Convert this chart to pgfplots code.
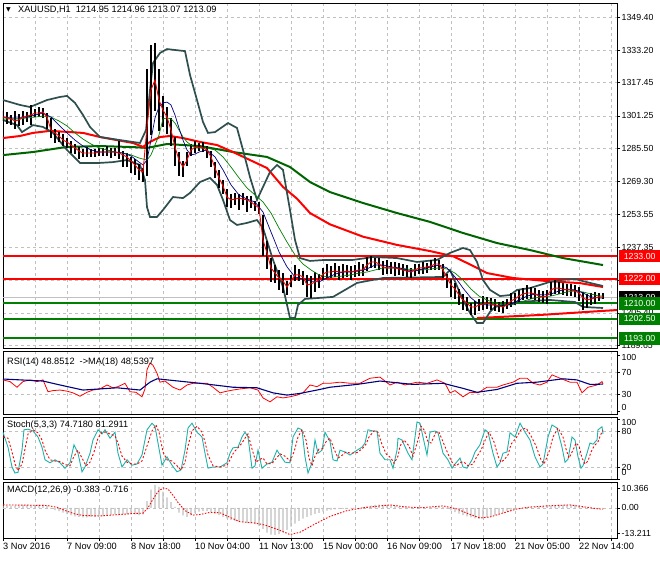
\documentclass[border=0pt]{standalone}
\usepackage{fontspec}
\setmainfont{Liberation Sans}
\newfontfamily\dejavu{DejaVu Sans}
\usepackage{pgfplots}
\pgfplotsset{compat=1.18}
\usepackage{pgfplotstable}

\definecolor{bbcol}{RGB}{47,79,79}
\definecolor{mtgreen}{RGB}{0,128,0}
\definecolor{dkgreen}{RGB}{0,100,0}
\definecolor{navyc}{RGB}{0,0,128}
\definecolor{gridc}{RGB}{192,192,192}
\definecolor{stochc}{RGB}{32,178,170}

\newcommand{\tickf}{\fontsize{8.8}{9}\selectfont}
\newcommand{\hdrf}{\fontsize{9.2}{10}\selectfont}

\pgfplotsset{
  mt/.style={
    scale only axis, width=614pt, anchor=south west,
    xmin=3, xmax=617,
    axis line style={black, line width=0.8pt},
    grid=major,
    grid style={gridc, dash pattern=on 3pt off 3pt, line width=0.6pt},
    xtick={35,67,...,611}, xticklabels={}, xtick style={draw=none},
    ytick pos=right, yticklabel pos=right,
    tick align=outside, major tick length=3pt,
    ytick style={black, line width=0.6pt},
    yticklabel style={font=\tickf, anchor=west, inner xsep=1.5pt},
    /pgf/number format/assume math mode=true,
  }
}

% price bars: x (pixel column), close, up, down
\pgfplotstableread{
x c ep em
3 1300.7 3 2
7 1300.3 3 3
11 1299.8 2 3
15 1298.8 5 4
19 1299.3 3 3
23 1300.7 3 4
27 1301.2 2 3
31 1301.7 5 5
35 1302.7 2 2
39 1302.7 3 2
43 1303.2 2 3
47 1300.7 2 6
51 1294.4 6 4
55 1293.0 2 5
59 1291.5 2 3
63 1289.5 3 3
67 1288.6 2 3
71 1287.1 2 4
75 1285.7 2 3
79 1284.2 2 4
83 1283.2 2 2
87 1283.2 3 2
91 1283.2 2 2
95 1283.2 2 2
99 1283.7 2 2
103 1283.7 2 2
107 1283.7 3 2
111 1283.7 2 3
115 1283.7 2 2
119 1283.2 6 3
123 1282.3 2 6
127 1281.3 2 5
131 1279.3 2 6
135 1277.4 3 5
139 1275.0 3 5
143 1274.0 2 5
147 1295.9 28 24
151 1313.9 22 22
155 1318.7 18 15
159 1309.0 15 15
163 1304.1 7 8
167 1300.7 5 8
171 1294.4 6 8
175 1286.1 5 9
179 1279.8 4 8
183 1276.4 3 5
187 1279.8 4 3
191 1284.7 3 3
195 1286.1 3 3
199 1286.1 2 2
203 1285.7 3 2
207 1284.7 2 4
211 1281.3 3 5
215 1275.9 3 5
219 1271.1 4 5
223 1267.2 3 4
227 1261.8 4 5
231 1260.4 3 4
235 1260.8 3 3
239 1261.3 2 6
243 1260.8 3 3
247 1260.4 2 6
251 1259.4 3 3
255 1257.9 2 3
259 1256.5 3 3
263 1240.9 12 8
267 1234.6 6 8
271 1227.3 5 7
275 1224.8 4 5
279 1222.4 4 6
283 1220.9 4 6
287 1218.0 3 4
291 1220.9 3 3
295 1223.9 5 3
299 1223.9 3 3
303 1222.9 3 4
307 1219.0 5 6
311 1219.5 4 7
315 1220.5 5 5
319 1221.4 3 4
323 1224.3 3 3
327 1225.3 4 3
331 1225.3 3 3
335 1225.8 4 3
339 1225.3 3 4
343 1225.3 4 3
347 1225.8 3 3
351 1225.3 3 4
355 1225.8 3 3
359 1226.3 4 3
363 1226.3 3 3
367 1228.7 4 3
371 1230.2 3 3
375 1230.2 2 3
379 1229.2 3 3
383 1227.8 3 4
387 1227.3 4 3
391 1227.3 3 3
395 1227.3 3 4
399 1226.8 3 3
403 1226.3 3 3
407 1225.8 3 3
411 1225.3 2 3
415 1226.3 3 3
419 1227.3 2 3
423 1227.3 3 3
427 1227.8 2 3
431 1228.2 3 2
435 1229.2 3 3
439 1229.2 2 3
443 1226.3 3 4
447 1222.4 2 5
451 1219.0 3 6
455 1217.0 3 5
459 1214.1 3 5
463 1211.7 3 5
467 1210.2 3 4
471 1208.3 2 4
475 1208.3 3 4
479 1209.3 3 3
483 1209.7 4 3
487 1210.2 3 3
491 1209.7 3 3
495 1209.3 3 3
499 1208.8 2 3
503 1208.3 3 3
507 1209.3 3 2
511 1211.2 4 3
515 1212.2 3 3
519 1213.6 3 3
523 1214.6 3 3
527 1215.1 4 3
531 1215.1 3 3
535 1214.6 3 3
539 1213.6 3 3
543 1213.2 3 3
547 1213.6 3 4
551 1216.6 4 3
555 1217.5 4 3
559 1217.5 3 3
563 1217.0 3 3
567 1216.6 3 3
571 1216.6 3 3
575 1216.1 3 3
579 1215.1 3 4
583 1212.7 3 6
587 1211.7 3 4
591 1212.2 3 3
595 1212.7 3 3
599 1213.2 2 2
603 1213.1 2 1
}\pricetab

\pgfplotstableread{
x v
3 1300.7
11 1300.3
19 1300.3
27 1300.7
35 1301.7
43 1302.7
51 1300.7
59 1296.8
67 1293.0
75 1289.5
83 1286.6
91 1284.7
99 1283.7
107 1283.7
115 1283.7
123 1283.2
131 1281.8
139 1278.8
143 1277.4
147 1279.8
151 1289.5
155 1300.3
159 1305.6
163 1307.6
167 1308.0
171 1306.6
175 1301.7
179 1295.4
183 1289.5
187 1284.7
191 1282.3
195 1282.7
199 1283.7
207 1284.7
215 1281.3
223 1275.0
231 1267.7
239 1262.8
247 1260.8
255 1259.4
263 1254.5
271 1244.8
279 1235.1
287 1227.8
295 1222.9
303 1221.9
311 1220.9
319 1220.5
327 1222.4
335 1224.3
343 1225.3
351 1225.3
359 1225.8
367 1226.8
375 1228.7
383 1228.7
391 1227.8
399 1227.3
407 1226.3
415 1225.8
423 1226.8
431 1227.8
439 1228.7
447 1227.3
455 1222.9
463 1217.5
471 1212.7
479 1209.7
487 1209.3
495 1209.3
503 1208.8
511 1209.7
519 1211.7
527 1213.6
535 1214.6
543 1214.1
551 1214.6
559 1216.1
567 1217.0
575 1216.6
583 1215.1
591 1213.2
599 1212.7
603 1212.7
}\bluetab

\pgfplotstableread{
x v
3 1299.8
11 1299.8
19 1299.8
27 1300.3
35 1300.7
43 1301.2
51 1300.7
59 1298.8
67 1296.4
75 1293.0
83 1290.0
91 1287.6
99 1285.7
107 1284.7
115 1283.7
123 1283.2
131 1282.3
139 1280.8
147 1279.8
151 1282.3
155 1287.1
159 1292.0
163 1299.8
167 1300.3
171 1299.8
175 1297.8
179 1294.4
183 1291.0
187 1288.6
191 1287.1
195 1286.1
199 1285.7
207 1285.7
215 1284.7
223 1281.3
231 1276.4
239 1271.1
247 1266.2
255 1262.8
263 1259.4
271 1254.0
279 1246.7
287 1239.9
295 1233.6
303 1229.2
311 1226.3
319 1223.9
327 1222.9
335 1222.9
343 1223.4
351 1223.9
359 1224.8
367 1225.3
375 1226.3
383 1227.3
391 1227.3
399 1227.3
407 1226.8
415 1226.3
423 1226.3
431 1226.8
439 1227.3
447 1226.8
455 1224.8
463 1221.4
471 1217.0
479 1213.6
487 1211.7
495 1210.2
503 1209.3
511 1209.3
519 1210.2
527 1211.7
535 1212.7
543 1213.2
551 1213.6
559 1214.6
567 1215.6
575 1216.1
583 1215.6
591 1214.6
599 1213.6
603 1213.6
}\gthintab

\pgfplotstableread{
x v
3 1309.0
20 1306.6
30 1305.6
47 1309.0
60 1310.5
67 1311.0
75 1307.6
83 1301.7
90 1295.9
100 1291.0
120 1289.5
140 1288.1
146 1294.4
150 1313.9
153 1327.0
160 1331.9
167 1333.8
185 1332.8
190 1321.2
197 1309.0
203 1298.3
208 1293.0
215 1293.4
228 1297.8
237 1295.4
243 1284.7
250 1271.5
257 1260.4
263 1266.7
270 1274.0
277 1277.4
283 1275.0
290 1255.5
295 1240.9
300 1232.1
310 1230.7
325 1231.2
353 1231.2
373 1232.6
397 1232.1
417 1230.2
437 1231.2
450 1234.6
463 1237.0
470 1236.0
477 1230.2
483 1221.4
490 1216.6
500 1213.6
510 1214.1
517 1216.6
530 1217.5
550 1220.5
560 1221.4
575 1221.9
590 1220.0
603 1218.5
}\bbup

\pgfplotstableread{
x v
3 1299.3
17 1296.8
22 1293.4
33 1296.8
43 1295.9
53 1293.0
67 1284.7
80 1278.4
100 1278.4
113 1278.8
127 1279.8
140 1277.4
145 1270.1
147 1256.9
150 1252.1
157 1252.1
163 1255.5
173 1261.8
183 1261.3
190 1263.8
200 1269.1
210 1271.1
217 1267.7
223 1260.4
230 1250.6
237 1248.2
247 1249.2
257 1250.6
263 1246.7
273 1231.2
283 1218.0
290 1202.9
295 1202.9
298 1209.3
305 1212.2
333 1213.2
350 1218.0
357 1220.0
383 1222.4
443 1222.9
450 1226.3
463 1211.7
470 1205.4
477 1200.5
483 1200.5
490 1205.9
495 1208.3
517 1210.7
550 1211.7
575 1210.7
583 1208.3
603 1207.8
}\bblo

\pgfplotstableread{
x v
3 1290.5
20 1291.5
33 1293.0
50 1294.0
67 1293.5
83 1293.0
100 1291.0
117 1289.5
133 1288.1
143 1286.2
150 1288.6
160 1291.0
170 1291.5
183 1290.5
200 1288.6
217 1287.1
233 1283.7
250 1279.8
267 1275.9
283 1266.7
297 1261.0
310 1254.0
330 1248.5
363 1242.5
397 1238.5
430 1235.5
453 1233.0
470 1229.0
487 1224.8
513 1222.4
547 1220.9
580 1219.9
603 1218.0
}\redma

\pgfplotstableread{
x v
3 1282.2
33 1283.7
67 1286.2
100 1286.6
133 1286.1
147 1285.7
167 1287.6
200 1286.6
233 1283.7
267 1281.3
290 1276.4
310 1269.1
330 1264.2
363 1258.9
397 1254.0
430 1249.7
463 1244.3
497 1239.4
530 1236.0
563 1232.1
603 1228.7
}\greenma

\pgfplotstableread{
x v
3 56
10 53
17 43
23 53
30 56
37 53
43 56
48 35
53 37
60 38
67 36
73 33
80 27
87 34
93 38
100 40
107 47
113 42
118 44
125 50
130 35
136 34
142 26
145 40
147 74
150 86
153 82
157 68
160 52
165 54
173 43
180 38
187 47
193 50
200 50
207 50
213 43
220 33
227 36
233 38
240 40
250 42
258 38
263 24
270 17
277 26
283 24
290 26
297 29
303 33
310 47
317 44
323 50
330 50
340 52
350 50
360 50
370 59
380 61
390 47
397 52
405 47
417 52
427 50
437 56
445 50
450 33
455 37
463 26
470 34
478 33
487 43
497 43
503 47
513 52
520 59
527 59
533 50
540 47
547 52
552 65
560 59
570 52
577 52
582 33
588 43
597 47
602 53
603 49
}\rsitab

\pgfplotstableread{
x v
3 57.6
43 54
60 47
83 38
117 42
140 38
150 52
157 58
173 55
200 50
233 43
257 42
273 33
287 29
300 32
317 38
330 43
357 48
380 54
413 48
443 50
463 41
477 34
497 39
517 50
537 52
563 58
577 56
590 48
603 48.5
}\rsima

\pgfplotstableread{
x v
3 78
8 53
12 20
15 10
18 11
22 48
24 82
28 83
33 80
38 70
42 53
45 32
50 27
55 32
60 27
65 18
70 27
74 57
78 43
82 12
85 20
90 43
93 65
98 82
102 75
105 82
110 68
115 78
118 43
122 20
127 32
132 23
137 25
142 40
147 82
152 93
155 88
158 60
162 23
167 37
172 23
177 12
181 15
185 48
188 85
192 93
197 78
202 70
205 43
208 18
213 20
220 20
227 27
230 43
233 52
238 53
242 70
245 78
248 70
252 18
255 22
258 48
262 18
267 25
272 28
277 48
280 40
285 28
290 27
293 70
298 85
302 82
305 37
308 10
312 27
315 65
318 43
322 48
325 78
330 63
333 32
337 30
340 48
345 45
350 40
357 48
362 53
365 60
368 82
373 80
377 80
380 43
385 32
390 32
393 18
397 48
398 68
402 65
408 43
412 32
417 95
420 93
423 70
427 40
430 78
435 80
438 77
443 43
448 32
452 18
455 25
460 35
463 20
467 18
472 32
475 45
480 57
485 82
488 78
493 43
497 20
500 27
503 43
507 45
510 77
515 70
520 93
525 78
530 65
535 37
540 20
543 25
548 70
552 90
557 85
562 53
565 28
568 33
572 70
575 65
578 37
581 18
583 22
587 43
590 60
593 58
597 65
598 82
602 87
603 75
}\stmain

\pgfplotstableread{
x v
3 70
8 68
12 45
15 25
18 14
22 25
25 50
28 75
33 82
38 77
42 65
45 48
50 32
55 30
60 29
65 24
70 22
74 38
78 48
82 35
86 22
90 28
94 45
98 68
102 78
106 78
110 75
115 72
118 60
122 38
127 28
132 25
137 25
142 30
147 55
152 80
156 90
159 78
163 45
167 32
172 30
177 22
181 15
185 28
188 55
192 80
197 88
202 78
205 62
208 40
213 22
220 20
227 23
230 32
234 45
238 52
242 60
245 68
248 75
252 50
256 28
259 32
263 35
267 25
272 26
277 36
280 42
285 38
290 30
294 45
298 70
302 82
306 65
309 35
312 22
315 38
319 50
322 50
326 62
330 68
334 50
338 35
341 38
346 45
351 43
357 44
362 50
366 58
369 70
374 80
378 78
381 62
386 42
391 35
394 26
398 38
400 55
404 65
409 55
413 38
418 65
421 88
424 82
428 62
431 60
436 78
439 78
444 58
449 38
453 25
456 22
461 28
464 28
468 22
473 25
476 35
481 48
486 68
489 78
494 62
498 38
501 28
504 32
508 40
511 58
516 68
521 82
526 85
531 72
536 55
541 32
544 25
549 45
553 70
558 85
563 70
566 50
569 35
573 48
576 60
579 55
582 35
585 25
588 30
591 45
594 55
598 62
601 75
603 81
}\stsig

\pgfplotstableread{
x v
3 1.2
7 1.3
11 1.2
15 1.1
19 1.2
23 1.4
27 1.4
31 1.5
35 1.5
39 1.6
43 1.7
47 1.2
51 -0.5
55 -1.2
59 -1.8
63 -2.5
67 -3.3
71 -4.0
75 -4.5
79 -4.8
83 -5.0
87 -5.0
91 -4.8
95 -4.7
99 -4.5
103 -4.3
107 -4.0
111 -3.8
115 -3.5
119 -3.3
123 -3.2
127 -3.2
131 -3.3
135 -3.5
139 -3.8
143 -3.5
147 3.5
151 9.5
155 12.0
159 11.0
163 8.5
167 5.5
171 3.0
175 0.5
179 -2.5
183 -4.0
187 -4.8
191 -3.8
195 -2.8
199 -2.0
203 -1.8
207 -1.8
211 -2.3
215 -3.0
219 -3.8
223 -4.8
227 -5.5
231 -6.3
235 -7.0
239 -7.3
243 -7.6
247 -8.0
251 -8.2
255 -8.5
259 -9.5
263 -11.0
267 -13.0
271 -14.0
275 -14.2
279 -13.8
283 -12.8
287 -11.6
291 -9.8
295 -8.3
299 -6.8
303 -5.6
307 -4.8
311 -4.0
315 -3.2
319 -2.6
323 -2.0
327 -1.5
331 -1.1
335 -0.8
339 -0.6
343 -0.5
347 -0.4
351 -0.3
355 -0.2
359 0.0
363 0.3
367 0.8
371 1.2
375 1.5
379 1.6
383 1.5
387 1.4
391 1.2
395 0.9
399 0.5
403 0.3
407 0.2
411 0.1
415 0.1
419 0.0
423 0.1
427 0.2
431 0.3
435 0.4
439 0.5
443 0.3
447 -0.5
451 -1.3
455 -2.2
459 -3.0
463 -3.8
467 -4.5
471 -5.0
475 -5.5
479 -5.8
483 -5.6
487 -5.0
491 -4.5
495 -3.8
499 -3.0
503 -2.4
507 -1.8
511 -1.3
515 -0.9
519 -0.4
523 0.1
527 0.4
531 0.6
535 0.7
539 0.8
543 0.9
547 1.0
551 1.2
555 1.4
559 1.5
563 1.5
567 1.6
571 1.6
575 1.5
579 1.2
583 0.5
587 0.0
591 -0.3
595 -0.4
599 -0.4
603 -0.4
}\macdtab

\pgfplotstableread{
x v
3 1.5
25 1.4
47 1.2
57 0.3
67 -1.8
75 -3.2
83 -4.0
100 -4.3
117 -3.6
133 -3.0
143 -2.8
148 0.0
153 4.5
158 8.5
163 10.4
168 9.8
173 6.5
178 2.8
185 -1.5
193 -3.8
200 -3.5
210 -2.4
220 -2.6
230 -5.0
240 -7.3
254 -7.9
265 -9.0
278 -11.4
290 -14.0
300 -12.8
313 -9.0
330 -4.5
347 -1.5
363 0.0
380 1.0
390 1.5
403 0.6
420 0.0
443 1.0
457 -0.6
470 -3.5
480 -5.3
490 -4.8
503 -2.7
517 -0.6
530 0.4
547 1.0
570 1.5
583 0.6
597 -0.5
603 -0.7
}\macdsig

\begin{document}
\begin{tikzpicture}[x=1pt,y=1pt]
\path[use as bounding box, fill=white] (0,0) rectangle (660,560);

% ---------- main price panel ----------
\begin{axis}[mt, at={(3pt,212pt)}, height=345pt,
  ymin=1188.33, ymax=1356.22,
  ytick={1189.65,1205.40,1221.15,1237.35,1253.55,1269.30,1285.50,1301.25,1317.45,1333.20,1349.40},
  yticklabels={1189.65,1205.40,1221.15,1237.35,1253.55,1269.30,1285.50,1301.25,1317.45,1333.20,1349.40},
]
\addplot[gridc, line width=0.8pt] coordinates {(3,1213.09)(617,1213.09)};
\addplot[red, line width=2pt] coordinates {(3,1233)(617,1233)};
\addplot[red, line width=2pt] coordinates {(3,1222)(617,1222)};
\addplot[mtgreen, line width=2pt] coordinates {(3,1210)(617,1210)};
\addplot[mtgreen, line width=2pt] coordinates {(3,1202.5)(617,1202.5)};
\addplot[mtgreen, line width=2pt] coordinates {(3,1193)(617,1193)};
\addplot[red, line width=2pt] coordinates {(477,1202.9)(540,1204.4)(600,1206.3)(617,1206.8)};

\addplot[dkgreen, line width=2pt] table[x=x,y=v] \greenma;
\addplot[red, line width=2pt] table[x=x,y=v] \redma;
\addplot[bbcol, line width=1.7pt] table[x=x,y=v] \bbup;
\addplot[bbcol, line width=1.7pt] table[x=x,y=v] \bblo;

\addplot[draw=none, mark=none, forget plot,
  error bars/.cd, y dir=both, y explicit, error mark=none,
  error bar style={draw=black, line width=1.3pt, solid}]
  table[x=x, y=c, y error plus=ep, y error minus=em] \pricetab;

\addplot[mtgreen, line width=0.7pt] table[x=x,y=v] \gthintab;
\addplot[navyc, line width=0.7pt] table[x=x,y=v] \bluetab;
\addplot[red, line width=0.9pt] table[x=x,y=c] \pricetab;

\coordinate (b1) at (axis cs:617,1233);
\coordinate (b2) at (axis cs:617,1222);
\coordinate (b3) at (axis cs:617,1213.09);
\coordinate (b4) at (axis cs:617,1210);
\coordinate (b5) at (axis cs:617,1202.5);
\coordinate (b6) at (axis cs:617,1193);
\end{axis}

\foreach \n/\c/\t in {b1/red/1233.00, b2/red/1222.00, b3/black/1213.09,
                      b4/mtgreen/1210.00, b5/mtgreen/1202.50, b6/mtgreen/1193.00}
  \node[fill=\c, text=white, font=\tickf, anchor=west, xshift=2pt,
        minimum width=41pt, minimum height=12.5pt, inner sep=0pt] at (\n) {\t};

\node[anchor=west, inner sep=0pt, font=\dejavu\fontsize{6}{6}\selectfont] at (6,550) {▼};
\node[anchor=west, inner sep=0pt, font=\hdrf] at (18,550)
  {XAUUSD,H1\hspace{5pt}1214.95 1214.96 1213.07 1213.09};

% ---------- RSI ----------
\begin{axis}[mt, at={(3pt,146pt)}, height=63pt,
  ymin=-4.6, ymax=107.4,
  ytick={30,70}, yticklabels={30,70},
  extra y ticks={0,100},
  extra y tick labels={\smash{\raisebox{1.2pt}{0}},\smash{\raisebox{-5.8pt}{100}}},
  extra y tick style={grid=none},
]
\addplot[red, line width=0.8pt] table[x=x,y=v] \rsitab;
\addplot[navyc, line width=1.1pt] table[x=x,y=v] \rsima;
\end{axis}
\node[anchor=west, inner sep=0pt, font=\hdrf] at (7,198) {RSI(14) 48.8512\hspace{5pt}->MA(18) 48.5397};

% ---------- Stochastic ----------
\begin{axis}[mt, at={(3pt,81pt)}, height=62pt,
  ymin=0, ymax=103.3,
  ytick={20,80}, yticklabels={20,80},
  extra y ticks={0,100},
  extra y tick labels={\smash{\raisebox{3.2pt}{0}},\smash{\raisebox{-6.8pt}{100}}},
  extra y tick style={grid=none},
]
\addplot[stochc, line width=0.9pt] table[x=x,y=v] \stmain;
\addplot[red, line width=0.9pt, dash pattern=on 2pt off 2pt] table[x=x,y=v] \stsig;
\end{axis}
\node[anchor=west, inner sep=0pt, font=\hdrf] at (7,135) {Stoch(5,3,3) 74.7180 81.2911};

% ---------- MACD ----------
\begin{axis}[mt, at={(3pt,22pt)}, height=56pt,
  ymin=-15.8, ymax=13.5,
  ymajorgrids=false,
  ytick={-13.211,0,10.366}, yticklabels={-13.211,0.00,10.366},
  xtick={3,35,...,611},
  xticklabels={3 Nov 2016,,7 Nov 09:00,,8 Nov 18:00,,10 Nov 04:00,,11 Nov 13:00,,15 Nov 00:00,,16 Nov 09:00,,17 Nov 18:00,,21 Nov 05:00,,22 Nov 14:00,},
  xtick pos=bottom,
  xtick style={draw=black, line width=0.6pt},
  xticklabel style={font=\hdrf, anchor=north west, inner xsep=0pt, inner ysep=1.5pt},
]
\addplot[gridc, line width=0.6pt, dash pattern=on 3pt off 3pt] coordinates {(3,0)(617,0)};
\addplot[ybar, bar width=1.2pt, fill=gridc, draw=none] table[x=x,y=v] \macdtab;
\addplot[red, line width=0.9pt, dash pattern=on 1.5pt off 1.5pt] table[x=x,y=v] \macdsig;
\end{axis}
\node[anchor=west, inner sep=0pt, font=\hdrf] at (7,70) {MACD(12,26,9) -0.383 -0.716};

\end{tikzpicture}
\end{document}
